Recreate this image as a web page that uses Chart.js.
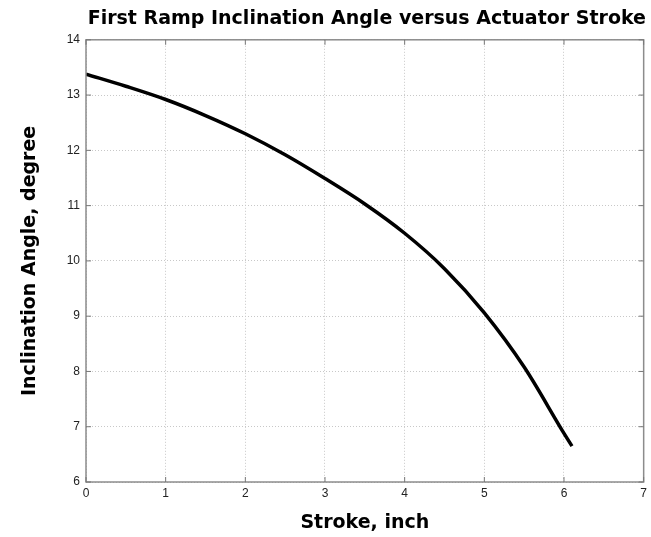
<!DOCTYPE html>
<html>
<head>
<meta charset="utf-8">
<script src="https://cdn.jsdelivr.net/npm/chart.js@4.4.1/dist/chart.umd.min.js"></script>
<style>
  html, body { margin: 0; padding: 0; background: #fff; }
  #wrap { width: 651px; height: 537px; }
</style>
</head>
<body>
<div id="wrap"><canvas id="myChart" width="651" height="537"></canvas></div>
<script>
// stroke (inch) and inclination angle (degree)
const stroke = [0, 0.5, 1, 1.5, 2, 2.5, 3, 3.5, 4, 4.5, 5, 5.5, 6, 6.1];
const angle = [13.38, 13.16, 12.92, 12.63, 12.30, 11.92, 11.49, 11.03, 10.50, 9.86, 9.06, 8.08, 6.88, 6.65];

const xTicks = [0, 1, 2, 3, 4, 5, 6, 7];
const yTicks = [6, 7, 8, 9, 10, 11, 12, 13, 14];

const titleText = 'First Ramp Inclination Angle versus Actuator Stroke';
const xTitle = 'Stroke, inch';
const yTitle = 'Inclination Angle, degree';

const heavy = { family: 'DejaVu Sans', weight: 'bold', size: 19 };

// box round the plot + small inward ticks, MATLAB style
const boxPlugin = {
    id: 'box',
    afterDraw(chart) {
        const c = chart.ctx, a = chart.chartArea;
        const xs = chart.scales.x, ys = chart.scales.y;
        c.save();
        c.strokeStyle = '#8c8c8c';
        c.lineWidth = 1.5;
        c.strokeRect(a.left, a.top, a.right - a.left, a.bottom - a.top);
        c.lineWidth = 1;
        c.strokeStyle = '#777';
        xTicks.forEach(v => {
            const px = xs.getPixelForValue(v);
            c.beginPath();
            c.moveTo(px, a.bottom); c.lineTo(px, a.bottom - 5);
            c.moveTo(px, a.top); c.lineTo(px, a.top + 5);
            c.stroke();
        });
        yTicks.forEach(v => {
            const py = ys.getPixelForValue(v);
            c.beginPath();
            c.moveTo(a.left, py); c.lineTo(a.left + 5, py);
            c.moveTo(a.right, py); c.lineTo(a.right - 5, py);
            c.stroke();
        });
        c.restore();
    }
};

const ctx = document.getElementById('myChart') ? document.getElementById('myChart').getContext('2d') : null;

if (ctx) {
    new Chart(ctx, {
        type: 'line',
        data: {
            datasets: [{
                data: stroke.map((s, i) => ({ x: s, y: angle[i] })),
                borderColor: '#000',
                borderWidth: 3.5,
                pointRadius: 0,
                cubicInterpolationMode: 'monotone',
                fill: false
            }]
        },
        options: {
            responsive: false,
            animation: false,
            layout: { padding: { left: 0, right: 5, top: 0, bottom: 0 } },
            plugins: {
                legend: { display: false },
                tooltip: { enabled: false },
                title: {
                    display: true,
                    text: titleText,
                    color: '#000',
                    font: heavy,
                    align: 'end',
                    padding: { top: 8, bottom: 9 }
                }
            },
            scales: {
                x: {
                    type: 'linear',
                    min: 0,
                    max: 7,
                    afterBuildTicks: s => { s.ticks = xTicks.map(v => ({ value: v })); },
                    afterFit: s => { s.height = 55; },
                    grid: { color: '#c8c8c8', drawTicks: false },
                    border: { display: false, dash: [1, 2] },
                    ticks: { color: '#222', font: { family: 'Liberation Sans', size: 12 }, padding: 4 },
                    title: { display: true, text: xTitle, color: '#000', font: heavy, padding: { top: 4, bottom: 3 } }
                },
                y: {
                    type: 'linear',
                    min: 6,
                    max: 14,
                    afterBuildTicks: s => { s.ticks = yTicks.map(v => ({ value: v })); },
                    afterFit: s => { s.width = 86; },
                    grid: { color: '#c8c8c8', drawTicks: false },
                    border: { display: false, dash: [1, 2] },
                    ticks: { color: '#222', font: { family: 'Liberation Sans', size: 12 }, padding: 6 },
                    title: { display: true, text: yTitle, color: '#000', font: heavy, padding: { top: 19, bottom: 0 } }
                }
            }
        },
        plugins: [boxPlugin]
    });
}
</script>
</body>
</html>
